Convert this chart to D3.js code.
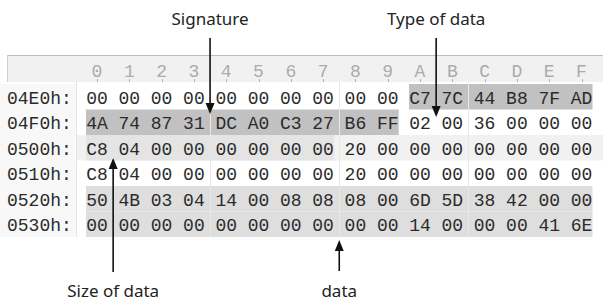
<!DOCTYPE html>
<html>
<head>
<meta charset="utf-8">
<script src="https://cdn.jsdelivr.net/npm/d3@7"></script>
<style>
  html, body { margin: 0; padding: 0; background: #fff; }
  svg { display: block; }
</style>
</head>
<body>
<svg id="chart" width="603" height="302"></svg>
<script>
// hex dump values
const columnLabels = ['0','1','2','3','4','5','6','7','8','9','A','B','C','D','E','F'];
const addresses = ['04E0h:', '04F0h:', '0500h:', '0510h:', '0520h:', '0530h:'];
const bytes = [
    ['00','00','00','00','00','00','00','00','00','00','C7','7C','44','B8','7F','AD'],
    ['4A','74','87','31','DC','A0','C3','27','B6','FF','02','00','36','00','00','00'],
    ['C8','04','00','00','00','00','00','00','20','00','00','00','00','00','00','00'],
    ['C8','04','00','00','00','00','00','00','20','00','00','00','00','00','00','00'],
    ['50','4B','03','04','14','00','08','08','08','00','6D','5D','38','42','00','00'],
    ['00','00','00','00','00','00','00','00','00','00','14','00','00','00','41','6E']
];
// highlighted byte runs: row, first col, last col, shade
const highlights = [
    { row: '04E0h:', from: 10, to: 15, shade: 'dark' },
    { row: '04F0h:', from: 0, to: 9, shade: 'dark' },
    { row: '0500h:', from: 0, to: 7, shade: 'light' },
    { row: '0520h:', from: 0, to: 15, shade: 'mid' },
    { row: '0530h:', from: 0, to: 15, shade: 'mid' }
];
const groupBreaks = [3.5, 7.5, 11.5];
// callouts: label, column position of the arrow, which way it points
const callouts = [
    { label: 'Signature', col: 3.5, dir: 'down' },
    { label: 'Type of data', col: 10.5, dir: 'down' },
    { label: 'Size of data', col: 0.5, dir: 'up' },
    { label: 'data', col: 7.5, dir: 'up' }
];

const shadeColor = { dark: '#c1c1c1', mid: '#dedede', light: '#e4e4e4' };
const mono = '"Liberation Mono", "Courier New", monospace';
const sans = '"Noto Sans", "Open Sans", sans-serif';

const svg = d3.select('#chart');

const x = d3.scaleLinear().domain([0, 15]).range([97, 581.5]);
const y = d3.scaleBand().domain(addresses).range([84, 237]);
const half = 11;
const bw = y.bandwidth();

// header strip
svg.append('rect')
    .attr('x', 7).attr('y', 55).attr('width', 596).attr('height', 27)
    .attr('fill', '#f1f1f1');
svg.append('line')
    .attr('x1', 7).attr('x2', 603).attr('y1', 55.5).attr('y2', 55.5)
    .attr('stroke', '#bdbdbd');
svg.append('line')
    .attr('x1', 7.5).attr('x2', 7.5).attr('y1', 55).attr('y2', 82)
    .attr('stroke', '#cfcfcf');

// address column background
svg.append('rect')
    .attr('x', 0).attr('y', 84).attr('width', 76).attr('height', 153)
    .attr('fill', '#f8f8f8');

// faint band behind the 0500h row
svg.append('rect')
    .attr('x', 76).attr('y', y('0500h:')).attr('width', 527).attr('height', bw)
    .attr('fill', '#f1f1f1');

svg.selectAll('rect.hl')
    .data(highlights)
    .join('rect')
    .attr('class', 'hl')
    .attr('x', d => x(d.from) - half)
    .attr('y', d => y(d.row))
    .attr('width', d => x(d.to) - x(d.from) + 2 * half)
    .attr('height', bw)
    .attr('fill', d => shadeColor[d.shade]);

// separators
svg.append('line')
    .attr('x1', 76.5).attr('x2', 76.5).attr('y1', 82).attr('y2', 237)
    .attr('stroke', '#e4e4e4');
svg.selectAll('line.grp')
    .data(groupBreaks)
    .join('line')
    .attr('class', 'grp')
    .attr('x1', d => Math.round(x(d)) + 0.5)
    .attr('x2', d => Math.round(x(d)) + 0.5)
    .attr('y1', 82).attr('y2', 237)
    .attr('stroke', '#e8e8e8');

// column labels + ticks
svg.selectAll('text.col')
    .data(columnLabels)
    .join('text')
    .attr('class', 'col')
    .attr('x', (d, i) => x(i))
    .attr('y', 77)
    .attr('text-anchor', 'middle')
    .attr('font-family', mono)
    .attr('font-size', '18px')
    .attr('fill', '#ababab')
    .text(d => d);
svg.selectAll('line.tick')
    .data(columnLabels)
    .join('line')
    .attr('class', 'tick')
    .attr('x1', (d, i) => Math.round(x(i)) + 0.5)
    .attr('x2', (d, i) => Math.round(x(i)) + 0.5)
    .attr('y1', 79).attr('y2', 82)
    .attr('stroke', '#b5b5b5');

// address labels
svg.selectAll('text.addr')
    .data(addresses)
    .join('text')
    .attr('class', 'addr')
    .attr('x', 7)
    .attr('y', d => y(d) + bw / 2 + 7)
    .attr('font-family', mono)
    .attr('font-size', '18px')
    .attr('fill', '#2b2b2b')
    .text(d => d);

// byte values
const rowsG = svg.selectAll('g.row')
    .data(bytes)
    .join('g')
    .attr('class', 'row')
    .attr('transform', (d, i) => `translate(0,${y(addresses[i]) + bw / 2 + 7})`);
rowsG.selectAll('text')
    .data(d => d)
    .join('text')
    .attr('x', (d, i) => x(i))
    .attr('text-anchor', 'middle')
    .attr('font-family', mono)
    .attr('font-size', '18px')
    .attr('fill', '#2b2b2b')
    .text(d => d);

// callout arrows
function arrow(cx, tail, tip) {
    const dirSign = tip > tail ? 1 : -1;
    const base = tip - dirSign * 11;
    svg.append('line')
        .attr('x1', cx).attr('x2', cx)
        .attr('y1', tail).attr('y2', base)
        .attr('stroke', '#111').attr('stroke-width', 1.6);
    svg.append('path')
        .attr('d', `M${cx - 4.5},${base} L${cx + 4.5},${base} L${cx},${tip} Z`)
        .attr('fill', '#111');
}

callouts.forEach(c => {
    const cx = x(c.col);
    if (c.dir === 'down') {
        svg.append('text')
            .attr('x', cx).attr('y', 25)
            .attr('text-anchor', 'middle')
            .attr('font-family', sans)
            .attr('font-size', '17px')
            .attr('fill', '#222')
            .text(c.label);
        arrow(cx, 38, c.label === 'Signature' ? 114 : 117);
    } else {
        svg.append('text')
            .attr('x', cx).attr('y', 297)
            .attr('text-anchor', 'middle')
            .attr('font-family', sans)
            .attr('font-size', '17px')
            .attr('fill', '#222')
            .text(c.label);
        arrow(cx, c.label === 'data' ? 271 : 272, c.label === 'data' ? 240 : 158);
    }
});
</script>
</body>
</html>
